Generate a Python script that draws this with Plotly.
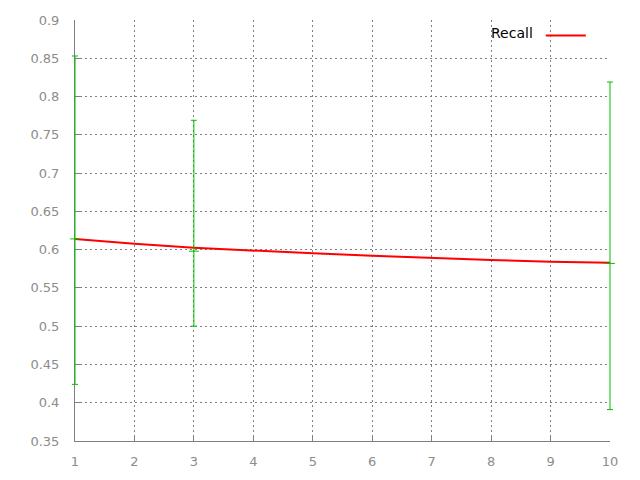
import plotly.graph_objects as go

# Recall curve
x_vals = [1, 2, 3, 4, 5, 6, 7, 8, 9, 10]
recall = [0.6140, 0.6076, 0.6024, 0.5985, 0.5952, 0.5920, 0.5890, 0.5865, 0.5843, 0.5829]

# Error bars
err_x = [1, 3, 10]
err_center = [0.614, 0.598, 0.582]
err_upper = [0.853, 0.769, 0.819]
err_lower = [0.424, 0.500, 0.391]

y_ticks = [0.35, 0.4, 0.45, 0.5, 0.55, 0.6, 0.65, 0.7, 0.75, 0.8, 0.85, 0.9]
y_ticktext = ["0.35", "0.4", "0.45", "0.5", "0.55", "0.6", "0.65", "0.7", "0.75", "0.8", "0.85", "0.9"]
x_ticks = [1, 2, 3, 4, 5, 6, 7, 8, 9, 10]

GREEN = "#00c000"
GRAY = "#808080"
LABEL_GRAY = "#8c8c8c"

# geometry (figure px) : data x=1 at 67, x=10 at 602; outer data area 55..614
L, R = 55, 614
X1, X10 = 67, 602
scale = (X10 - X1) / 9.0
x2_range = [1 - (X1 - L) / scale, 10 + (R - X10) / scale]
W = R - L
main_domain = [(X1 - L) / W, (X10 - L) / W]

fig = go.Figure()

fig.add_trace(go.Scatter(
    x=err_x, y=err_center, mode="markers", xaxis="x2", yaxis="y2",
    marker=dict(symbol="line-ew", size=7, color=GREEN, line=dict(color=GREEN, width=1)),
    error_y=dict(type="data", symmetric=False,
                 array=[u - c for u, c in zip(err_upper, err_center)],
                 arrayminus=[c - l for l, c in zip(err_lower, err_center)],
                 color=GREEN, thickness=1, width=3),
    showlegend=False, hoverinfo="skip", cliponaxis=False,
))

fig.add_trace(go.Scatter(
    x=x_vals, y=recall, mode="lines", xaxis="x", yaxis="y",
    line=dict(color="#ff0000", width=2),
    name=" ", showlegend=True, cliponaxis=False,
))

font = dict(family="DejaVu Sans", size=13, color=LABEL_GRAY)

fig.update_layout(
    width=640, height=480,
    margin=dict(l=L, r=640 - R, t=12, b=47),
    plot_bgcolor="rgba(0,0,0,0)", paper_bgcolor="white",
    font=font,
    legend=dict(
        x=(593 - L) / W, y=1.0, xanchor="right", yanchor="top",
        bgcolor="rgba(0,0,0,0)",
        title=dict(text="Recall", side="left", font=dict(family="DejaVu Sans", size=14, color="black")),
        font=dict(family="DejaVu Sans", size=14, color="black"),
        itemwidth=40,
    ),
    xaxis=dict(
        domain=main_domain, anchor="y",
        range=[1, 10], tickvals=x_ticks, ticktext=[str(v) for v in x_ticks],
        showgrid=True, gridcolor=GRAY, griddash="2px,3px", gridwidth=1,
        showline=True, linecolor=GRAY, linewidth=1,
        ticks="inside", ticklen=6, tickcolor=GRAY,
        zeroline=False, ticklabelstandoff=8, automargin=False,
    ),
    xaxis2=dict(
        domain=[0, 1], anchor="y2", range=x2_range,
        visible=False, showgrid=False, zeroline=False, automargin=False,
    ),
    yaxis=dict(
        anchor="x",
        range=[0.35, 0.9], tickvals=y_ticks, ticktext=y_ticktext,
        showgrid=True, gridcolor=GRAY, griddash="2px,3px", gridwidth=1,
        showline=True, linecolor=GRAY, linewidth=1,
        ticks="inside", ticklen=6, tickcolor=GRAY,
        zeroline=False, ticklabelstandoff=12, automargin=False,
    ),
    yaxis2=dict(
        domain=[0, 1], anchor="x2", range=[0.35, 0.9],
        visible=False, showgrid=False, zeroline=False, automargin=False,
    ),
)

fig.write_html("out.html")
